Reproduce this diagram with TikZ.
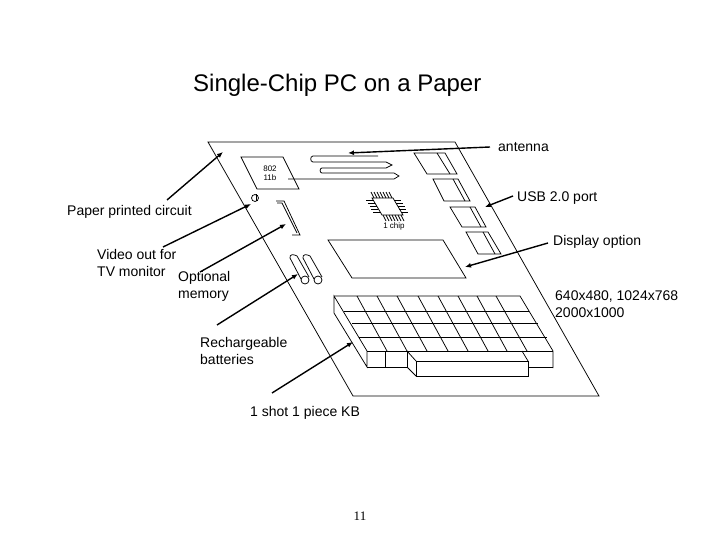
\documentclass[tikz,border=0pt]{standalone}
\usepackage{fontspec}
\setmainfont{Liberation Sans}
\newfontfamily\pagefont{Liberation Serif}
\usepackage{tikz}
\usetikzlibrary{arrows.meta}

\tikzset{
  part/.style={line width=0.75pt},
  connect/.style={-{Latex[length=6pt,width=5pt]}, line width=1.4pt},
  lbl/.style={inner sep=0pt, anchor=base west, align=left, font=\fontsize{14}{17}\selectfont},
  tinylbl/.style={inner sep=0pt, anchor=base, align=center, font=\fontsize{8}{9}\selectfont}
}

\begin{document}
\begin{tikzpicture}[x=1pt, y=-1pt]
        \useasboundingbox (0,0) rectangle (720,540);

        % paper sheet
        \draw[part] (208,142) -- (455,142) -- (599,396) -- (353,396) -- cycle;

        % radio block and antenna
        \draw[part] (241,157) -- (283,157) -- (299,189) -- (257,189) -- cycle;
        \node[tinylbl] (radio) at (270,181) {802\\11b};
        \draw[part] (288,179) -- (394,179) -- (399,176) -- (394,173) -- (322,173)
          to[out=180, in=180, looseness=1.3] (322,168) -- (386,168) -- (392,165) -- (386,162) -- (313,162)
          to[out=180, in=180, looseness=1.3] (313,156) -- (378,156);

        % chip
        \draw[part] (372,198) -- (393,198) -- (403,215) -- (382,215) -- cycle;
        \foreach \x in {0,3,...,18} {
          \draw[part] (374+\x,198) -- ++(-3,-6);
          \draw[part] (383+\x,215) -- ++(3,6);
        }
        \foreach \y in {2,5,...,14} {
          \draw[part] (372+0.59*\y,198+\y) -- ++(-7,0);
          \draw[part] (393+0.59*\y,198+\y) -- ++(7,0);
        }
        \node[tinylbl] (chip) at (394,229) {1 chip};

        % usb ports
        \foreach \a/\b/\c/\d/\e/\f/\g/\h in {414/445/457/427/153/174/437/450,
            433/458/470/444/179/201/453/465,
            450/475/486/462/207/227/470/481,
            466/488/501/478/232/254/483/495} {
          \draw[part] (\a,\e) -- (\b,\e) -- (\c,\f) -- (\d,\f) -- cycle;
          \draw[part] (\g,\e) -- (\h,\f);
        }

        % video out, memory slot
        \draw[part] (255,198) circle (3.5);
        \draw[part] (256,194.5) -- (256,201.5);
        \draw[part] (276,201) -- (284,201) -- (300,235) -- (292,235);
        \draw[part] (277,203) -- (282,203) -- (297,233);

        % batteries
        \foreach \x in {0,13} {
          \draw[part] (301+\x,279) -- (290+\x,258) to[out=100, in=150, looseness=1.4] (297+\x,256) -- (309+\x,277);
          \draw[part] (305+\x,280) circle (4);
        }

        % display
        \draw[part] (328,240) -- (443,240) -- (466,278) -- (352,278) -- cycle;

        % keyboard
        \draw[part] (334,296) -- (520,296) -- (553,351) -- (553,368);
        \foreach \a/\b/\y in {344/529/311, 352/538/323, 359/547/337, 367/553/351} {
          \draw[part] (\a,\y) -- (\b,\y);
        }
        \foreach \a/\b in {357/387, 377/407, 397/427, 418/448, 438/468, 458/488, 477/507, 496/527} {
          \draw[part] (\a,296) -- (\b,351);
        }
        \draw[part] (334,296) -- (367,351) -- (367,367) -- (334,313) -- cycle;
        \draw[part] (367,367) -- (407,367) -- (407,351);
        \draw[part] (385,351) -- (385,367);
        \draw[part] (528,367) -- (553,367);

        % long key
        \draw[part] (416,361) rectangle (528,376);
        \draw[part] (407,351) -- (416,361);
        \draw[part] (407,367) -- (416,376);
        \draw[part] (522,351) -- (528,361);

        % texts
        \node[inner sep=0pt, anchor=base west, font=\fontsize{24}{26}\selectfont] (title) at (193,92) {Single-Chip PC on a Paper};
        \node[lbl] (antenna) at (498,152) {antenna};
        \node[lbl] (usb) at (517,202) {USB 2.0 port};
        \node[lbl] (printed) at (67,215) {Paper printed circuit};
        \node[lbl] (display) at (553,245) {Display option};
        \node[lbl] (video) at (97,276) {Video out for\\TV monitor};
        \node[lbl] (memory) at (178,298) {Optional\\memory};
        \node[lbl] (resolution) at (555,317) {640x480, 1024x768\\2000x1000};
        \node[lbl] (recharge) at (200,364) {Rechargeable\\batteries};
        \node[lbl] (kb) at (250,416) {1 shot 1 piece KB};
        \node[inner sep=0pt, font=\pagefont\fontsize{13}{14}\selectfont] (page) at (360,516) {11};

        % arrow ends
        \coordinate (antennaTail) at (490,147);
        \coordinate (antennaTip) at (348,153);
        \coordinate (usbTail) at (513,196);
        \coordinate (usbTip) at (485,207);
        \coordinate (printedTail) at (167,200);
        \coordinate (printedTip) at (223,152);
        \coordinate (displayTail) at (548,243);
        \coordinate (displayTip) at (465,267);
        \coordinate (videoTail) at (163,247);
        \coordinate (videoTip) at (251,204);
        \coordinate (memoryTail) at (200,272);
        \coordinate (memoryTip) at (286,224);
        \coordinate (rechargeTail) at (217,325);
        \coordinate (rechargeTip) at (298,274);
        \coordinate (kbTail) at (272,393);
        \coordinate (kbTip) at (353,342);

        \foreach \e in {antenna, usb, printed, display, video, memory, recharge, kb} {
          \draw[connect] (\e Tail) -- (\e Tip);
        }

\end{tikzpicture}
\end{document}
